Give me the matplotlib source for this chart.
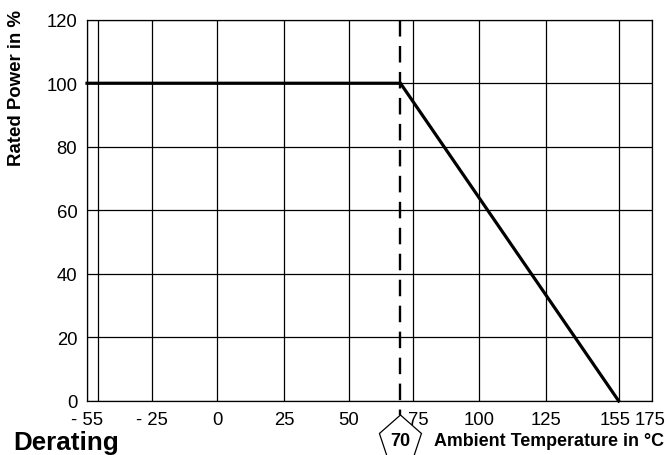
import numpy as np
import matplotlib
matplotlib.use("Agg")
import matplotlib.pyplot as plt
import matplotlib.transforms as mtransforms
from matplotlib.patches import Polygon

plt.rcParams['font.family'] = ['Liberation Sans', 'DejaVu Sans']

# ---- data ----
temps = [-55, 70, 155]          # °C
power = [100, 100, 0]           # % rated power
knee_temp = 70
x_ticks = [-55, -50, -25, 0, 25, 50, 75, 100, 125, 155, 175]
x_tick_labels = ["- 55", "", "- 25", "0", "25", "50", "75", "100", "125", "155", "175"]
y_ticks = [0, 20, 40, 60, 80, 100, 120]

# ---- layout: the original axis is drawn non-uniformly; display position of each tick ----
x_tick_pos = [87, 97.7, 152, 217, 284, 349, 413.3, 478.7, 546, 618.7, 652]


def fwd(v):
    return np.interp(v, x_ticks, x_tick_pos)


def inv(p):
    return np.interp(p, x_tick_pos, x_ticks)


W, H = 668, 456
fig = plt.figure(figsize=(W / 100, H / 100), dpi=100)
ax = fig.add_axes([87 / W, 1 - 402 / H, (652 - 87) / W, (402 - 20.7) / H])
ax.set_xscale('function', functions=(fwd, inv))
ax.set_xlim(-55, 175)
ax.set_ylim(0, 120)
ax.set_xticks(x_ticks)
ax.set_xticklabels(x_tick_labels)
ax.set_yticks(y_ticks)
ax.minorticks_off()
ax.grid(True, color='black', lw=0.9)
ax.set_axisbelow(True)
for s in ax.spines.values():
    s.set_linewidth(0.9)
ax.tick_params(axis='both', length=0, labelsize=13.3)
ax.tick_params(axis='x', pad=7)
ax.tick_params(axis='y', pad=7)

# shift a few tick labels like the original
shifts = {"75": 5, "155": -4, "175": -2}
for lbl in ax.get_xticklabels():
    dx = shifts.get(lbl.get_text(), 0)
    if dx:
        lbl.set_transform(lbl.get_transform() +
                          mtransforms.ScaledTranslation(dx / 100, 0, fig.dpi_scale_trans))

# derating curve
ax.plot(temps, power, color='black', lw=2.3, solid_joinstyle='miter', clip_on=False, zorder=5)

# dashed marker line at the knee, extending below the axis
blend = mtransforms.blended_transform_factory(ax.transData, ax.transAxes)
ax.plot([knee_temp, knee_temp], [1, -14 / 381.3], transform=blend, color='black',
        lw=1.7, ls=(0, (7, 4)), clip_on=False, zorder=4)

fig.canvas.draw()
x0, _ = ax.transData.transform((knee_temp, 0))
y0 = ax.transAxes.transform((0, 0))[1] - 14
pent = np.array([[0, 0], [21, -18.5], [13.5, -41], [-13.5, -41], [-21, -18.5]])
poly = Polygon(pent + [x0, y0], closed=True, fill=False, edgecolor='black', lw=0.9,
               transform=mtransforms.IdentityTransform())
fig.add_artist(poly)
fig.text(x0 / W, 10 / H, str(knee_temp), ha='center', va='baseline',
         fontsize=13, fontweight='bold')

fig.text(17 / W, 1 - 10 / H, "Rated Power in %", rotation=90, ha='center', va='top',
         fontsize=13.4, fontweight='bold')
fig.text(13 / W, 6 / H, "Derating", ha='left', va='baseline', fontsize=18.7, fontweight='bold')
fig.text(664 / W, 10 / H, "Ambient Temperature in °C", ha='right', va='baseline',
         fontsize=12.9, fontweight='bold')

fig.savefig("out.png", dpi=100)
